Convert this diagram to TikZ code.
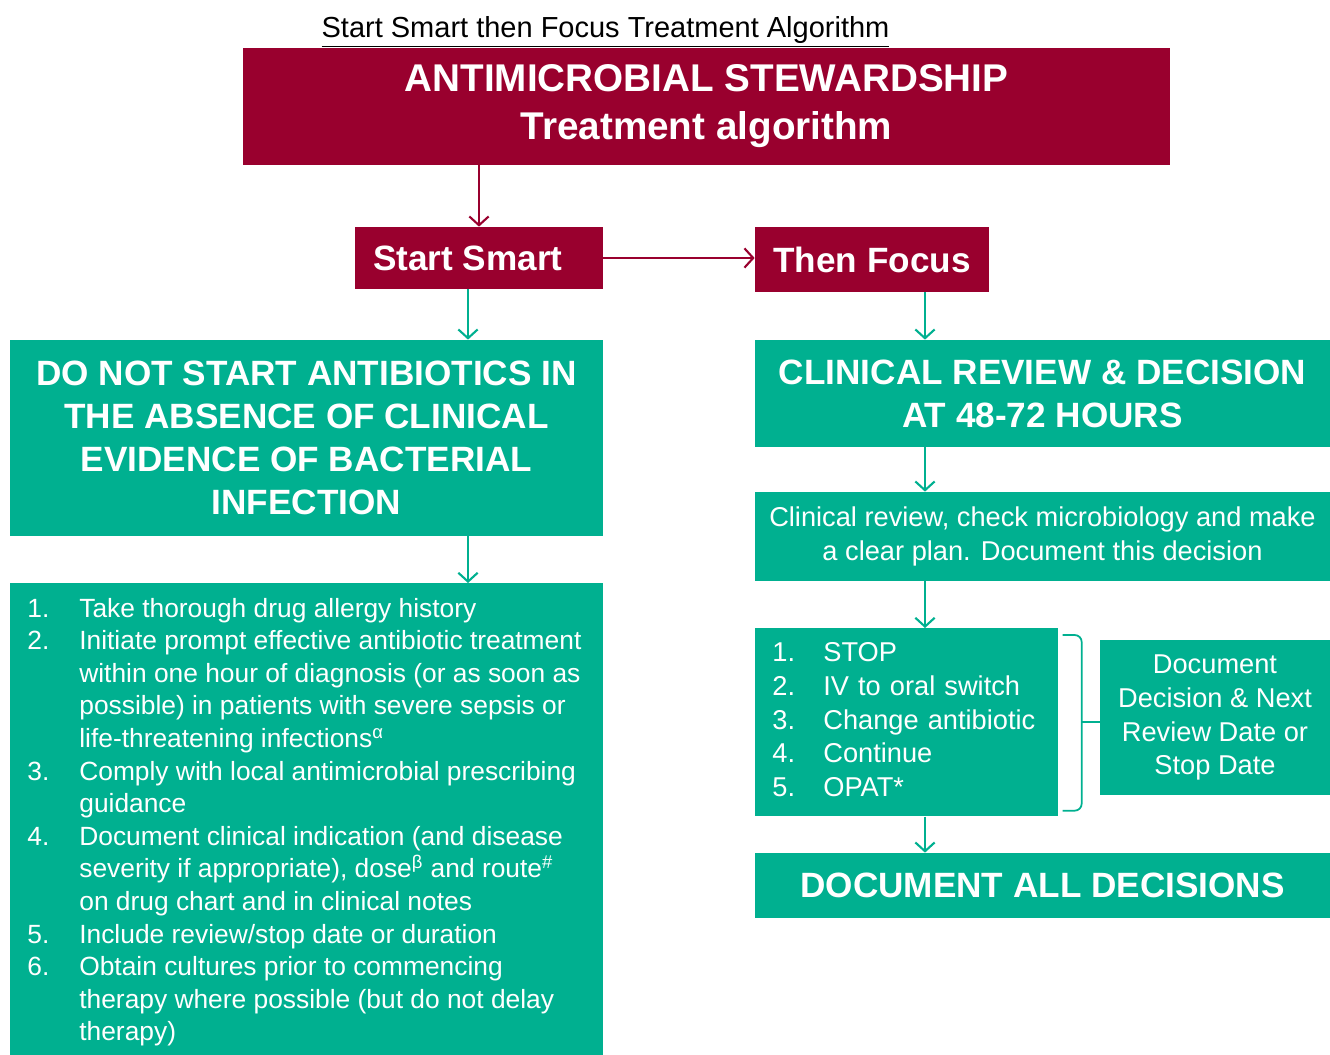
\documentclass[tikz,border=0pt]{standalone}
\usepackage{fontspec}
\setmainfont{Liberation Sans}
\usetikzlibrary{arrows.meta,calc}
\definecolor{amsred}{RGB}{153,0,46}
\definecolor{amsgreen}{RGB}{0,176,144}

\begin{document}
\begin{tikzpicture}[
  redbox/.style={fill=amsred,text=white,inner sep=0pt,align=center,font=\bfseries\fontsize{20}{24}\selectfont},
  greenbox/.style={fill=amsgreen,text=white,inner sep=0pt,align=center},
  head/.style={font=\bfseries\fontsize{20}{24.5}\selectfont},
  body/.style={font=\fontsize{15.5}{19.3}\selectfont},
  redarrow/.style={draw=amsred,line width=1.2pt,-{Straight Barb[length=5pt,width=11pt]}},
  greenarrow/.style={draw=amsgreen,line width=1.2pt,-{Straight Barb[length=5pt,width=11pt]}}
]
\useasboundingbox (0,0) rectangle (26.6,-21.1);
\coordinate (lcol) at (9.36,0);
\coordinate (rcol) at (18.5,0);

\node[font=\fontsize{16.5}{20}\selectfont] (title) at (12.11,-0.64) {\underline{Start Smart then Focus Treatment Algorithm}};

\node[redbox,minimum width=18.54cm,minimum height=2.34cm,font=\bfseries\fontsize{22}{27.3}\selectfont] (ams) at (14.13,-2.13) {ANTIMICROBIAL STEWARDSHIP\\Treatment algorithm};
\node[redbox,minimum width=4.96cm,minimum height=1.24cm] (smart) at (9.58,-5.16) {Start Smart\hspace{0.45cm}};
\node[redbox,minimum width=4.68cm,minimum height=1.3cm] (focus) at (17.44,-5.19) {Then Focus};

% start smart column
\node[greenbox,head,minimum width=11.86cm,minimum height=3.92cm] (nostart) at (6.13,-8.76) {DO NOT START ANTIBIOTICS IN\\THE ABSENCE OF CLINICAL\\EVIDENCE OF BACTERIAL\\INFECTION};
\node[greenbox,anchor=north west,minimum width=11.86cm,minimum height=9.44cm] (steps) at (0.2,-11.66) {};
\node[anchor=north west,inner sep=0pt,text=white,font=\fontsize{15}{18.55}\selectfont] (steplist) at ($(steps.north west)+(0.34,-0.22)$) {%
\begin{tabular}{@{}p{1.04cm}@{}l@{}}
1. & Take thorough drug allergy history\\
2. & Initiate prompt effective antibiotic treatment\\
   & within one hour of diagnosis (or as soon as\\
   & possible) in patients with severe sepsis or\\
   & life-threatening infections\textsuperscript{α}\\
3. & Comply with local antimicrobial prescribing\\
   & guidance\\
4. & Document clinical indication (and disease\\
   & severity if appropriate), dose\textsuperscript{β} and route\textsuperscript{\#}\\
   & on drug chart and in clinical notes\\
5. & Include review/stop date or duration\\
6. & Obtain cultures prior to commencing\\
   & therapy where possible (but do not delay\\
   & therapy)
\end{tabular}};

% then focus column
\node[greenbox,head,minimum width=11.5cm,minimum height=2.14cm] (review) at (20.85,-7.87) {CLINICAL REVIEW \& DECISION\\AT 48-72 HOURS};
\node[greenbox,body,minimum width=11.5cm,minimum height=1.78cm] (plan) at (20.85,-10.73) {Clinical review, check microbiology and make\\a clear plan. Document this decision};
\node[greenbox,anchor=north west,minimum width=6.06cm,minimum height=3.76cm,text width=5.38cm,inner xsep=0.34cm,align=left,font=\fontsize{15.5}{19.2}\selectfont] (options) at (15.1,-12.56) {%
\begin{tabular}{@{}p{1.02cm}@{}l@{}}
1. & STOP\\
2. & IV to oral switch\\
3. & Change antibiotic\\
4. & Continue\\
5. & OPAT*
\end{tabular}};
\node[greenbox,body,minimum width=4.6cm,minimum height=3.1cm] (nextdate) at (24.3,-14.35) {Document\\Decision \& Next\\Review Date or\\Stop Date};
\node[greenbox,head,minimum width=11.5cm,minimum height=1.3cm] (alldone) at (20.85,-17.71) {DOCUMENT ALL DECISIONS};

% connectors
\draw[redarrow] (smart.north |- ams.south) -- (smart.north);
\draw[redarrow] (smart.east) -- (smart.east -| focus.west);
\draw[greenarrow] (smart.south -| lcol) -- (nostart.north -| lcol);
\draw[greenarrow] (nostart.south -| lcol) -- (steps.north -| lcol);
\draw[greenarrow] (focus.south -| rcol) -- (review.north -| rcol);
\draw[greenarrow] (review.south -| rcol) -- (plan.north -| rcol);
\draw[greenarrow] (plan.south -| rcol) -- (options.north -| rcol);
\draw[greenarrow] (options.south -| rcol) -- (alldone.north -| rcol);

% bracket joining the options to the date box
\coordinate (bktop) at ([xshift=0.08cm,yshift=-0.14cm]options.north east);
\coordinate (bkbot) at ([xshift=0.08cm,yshift=0.12cm]options.south east);
\draw[amsgreen,line width=1pt,rounded corners=4pt] (bktop) -- ++(0.38,0) |- (bkbot);
\draw[amsgreen,line width=1pt] ($(options.east)+(0.46,0)$) -- (options.east -| nextdate.west);
\end{tikzpicture}
\end{document}
